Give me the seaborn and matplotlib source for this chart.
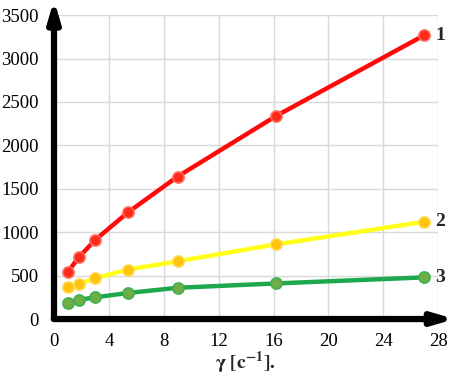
import numpy as np
import pandas as pd
import seaborn as sns
import matplotlib.pyplot as plt

# 데이터
gamma = [1.0, 1.8, 3.0, 5.4, 9.0, 16.2, 27.0]
curve1 = [540, 710, 910, 1230, 1640, 2340, 3270]
curve2 = [365, 400, 470, 570, 665, 860, 1120]
curve3 = [190, 220, 250, 300, 360, 410, 480]
labels = ['1', '2', '3']
x_ticks = [0, 4, 8, 12, 16, 20, 24, 28]
y_ticks = [0, 500, 1000, 1500, 2000, 2500, 3000, 3500]

df = pd.DataFrame({
    'gamma': gamma * 3,
    'value': curve1 + curve2 + curve3,
    'curve': ['1'] * 7 + ['2'] * 7 + ['3'] * 7,
})

sns.set_style('whitegrid')
plt.rcParams['font.family'] = ['Liberation Serif', 'DejaVu Serif']
plt.rcParams['mathtext.fontset'] = 'stix'

fig = plt.figure(figsize=(4.52, 3.78), dpi=100)
ax = fig.add_axes([0.1195, 0.156, 0.85, 0.804])

line_colors = {'1': '#ff0a0a', '2': '#ffff1a', '3': '#1ea84e'}
marker_face = {'1': '#ff2a1a', '2': '#ffc20e', '3': '#6fae46'}
marker_edge = {'1': '#ff6a5a', '2': '#ffd84a', '3': '#3fb050'}

for c in labels:
    sub = df[df['curve'] == c]
    sns.lineplot(data=sub, x='gamma', y='value', ax=ax, color=line_colors[c],
                 linewidth=3.2, marker='o', markersize=8,
                 markerfacecolor=marker_face[c], markeredgecolor=marker_edge[c],
                 markeredgewidth=1.2, legend=False, zorder=3)
    last = sub.iloc[-1]
    ax.text(last['gamma'] + 0.8, last['value'], c, fontsize=14, fontweight='bold',
            va='center', ha='left')

ax.set_xlim(0, 28)
ax.set_ylim(0, 3500)
ax.set_xticks(x_ticks)
ax.set_yticks(y_ticks)
ax.grid(True, color='#d9d9d9', linewidth=1)
ax.tick_params(axis='both', length=0, labelsize=13.5, colors='black')
ax.tick_params(axis='y', pad=11)
ax.tick_params(axis='x', pad=10)
ax.set_xlabel('')
ax.set_ylabel('')
for s in ax.spines.values():
    s.set_visible(False)

# 굵은 화살표 축
ax.annotate('', xy=(0, 1.06), xytext=(0, -0.005), xycoords='axes fraction',
            arrowprops=dict(arrowstyle='-|>,head_length=1.2,head_width=0.35',
                            color='black', lw=4.5), annotation_clip=False)
ax.annotate('', xy=(1.05, 0), xytext=(-0.008, 0), xycoords='axes fraction',
            arrowprops=dict(arrowstyle='-|>,head_length=1.2,head_width=0.35',
                            color='black', lw=4.5), annotation_clip=False)

fig.text(0.475, 0.04, r'$\mathbf{\gamma\ [c^{-1}].}$', fontsize=14, ha='left', va='center')

fig.savefig('out.png', dpi=100)
